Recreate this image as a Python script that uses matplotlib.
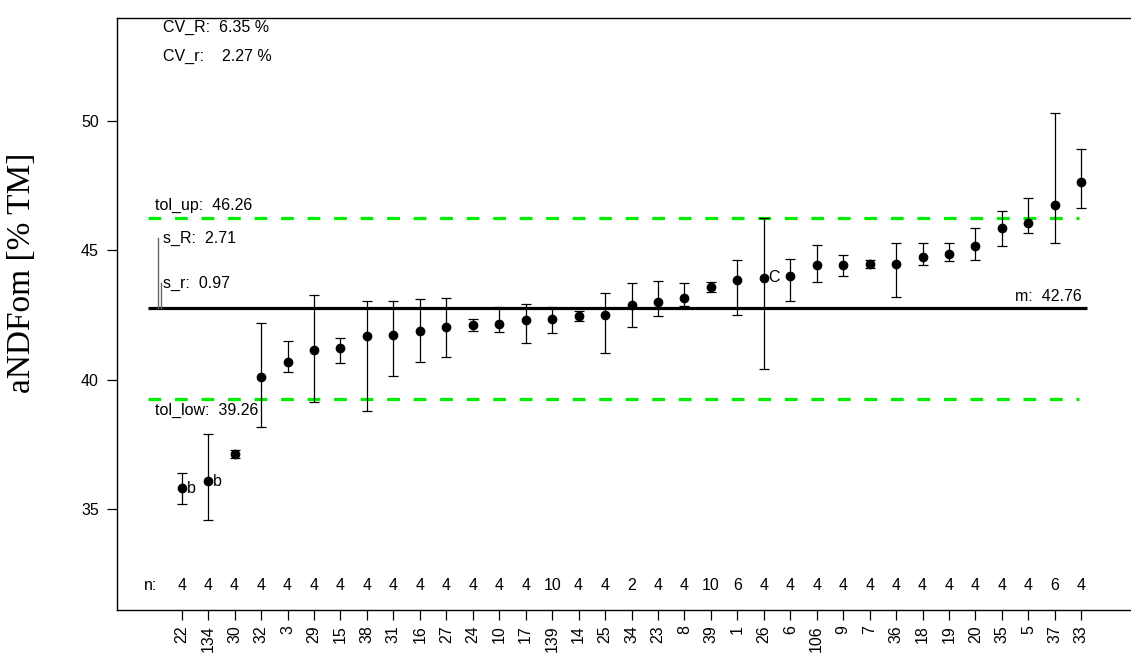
import numpy as np
import matplotlib
matplotlib.use("Agg")
import matplotlib.pyplot as plt

# ---------------- data ----------------
labs = ['22', '134', '30', '32', '3', '29', '15', '38', '31', '16', '27', '24', '10', '17',
        '139', '14', '25', '34', '23', '8', '39', '1', '26', '6', '106', '9', '7', '36',
        '18', '19', '20', '35', '5', '37', '33']
n_vals = [4, 4, 4, 4, 4, 4, 4, 4, 4, 4, 4, 4, 4, 4, 10, 4, 4, 2, 4, 4, 10, 6, 4, 4, 4,
          4, 4, 4, 4, 4, 4, 4, 4, 6, 4]
means = [35.81, 36.09, 37.12, 40.12, 40.70, 41.15, 41.24, 41.69, 41.72, 41.88, 42.03,
         42.10, 42.14, 42.31, 42.36, 42.46, 42.51, 42.88, 42.99, 43.14, 43.58, 43.85,
         43.94, 44.00, 44.43, 44.43, 44.46, 44.45, 44.74, 44.87, 45.18, 45.86, 46.06,
         46.74, 47.65]
upper = [36.39, 37.91, 37.29, 42.21, 41.51, 43.26, 41.61, 43.04, 43.04, 43.13, 43.16,
         42.34, 42.82, 42.92, 42.82, 42.67, 43.36, 43.73, 43.81, 43.72, 43.77, 44.64,
         46.26, 44.65, 45.20, 44.81, 44.61, 45.28, 45.28, 45.28, 45.84, 46.52, 47.02,
         50.30, 48.92]
lower = [35.21, 34.59, 37.00, 38.17, 40.29, 39.14, 40.64, 38.80, 40.16, 40.68, 40.89,
         41.87, 41.83, 41.43, 41.82, 42.26, 41.05, 42.03, 42.47, 42.84, 43.38, 42.49,
         40.42, 43.06, 43.77, 44.02, 44.31, 43.21, 44.42, 44.58, 44.64, 45.18, 45.66,
         45.28, 46.63]
flags = {0: 'b', 1: 'b', 22: 'C'}
mean_all = 42.76
tol_up = 46.26
tol_low = 39.26
s_R = 2.71
s_r = 0.97
CV_R = 6.35
CV_r = 2.27
ylabel = 'aNDFom [% TM]'

# ---------------- figure ----------------
plt.rcParams['font.family'] = ['Liberation Sans', 'DejaVu Sans']
W, H = 1131, 666
fig = plt.figure(figsize=(W / 100, H / 100), dpi=100)
ax = fig.add_axes([117 / W, 56 / H, 1083 / W, 592 / H])

x = np.arange(1, len(labs) + 1)
m = np.array(means)
lo = np.array(lower)
up = np.array(upper)

ax.set_xlim(-1.445, 39.485)
ax.set_ylim(31.12, 53.96)

# reference lines
ax.plot([-0.27, 35.2], [mean_all, mean_all], color='black', lw=2.3, solid_capstyle='butt', zorder=2)
for t in (tol_up, tol_low):
    ax.plot([-0.27, 34.9], [t, t], color='#00ee00', lw=2.3, dashes=(4.0, 4.3),
            dash_capstyle='butt', zorder=2)

# s_R and s_r bars
ax.plot([0.104, 0.104], [mean_all, mean_all + s_R], color='0.4', lw=1.0, zorder=2)
ax.plot([0.206, 0.206], [mean_all, mean_all + s_r], color='0.4', lw=1.0, zorder=2)

# error bars and points
ax.errorbar(x, m, yerr=[m - lo, up - m], fmt='o', color='black', ms=6.0,
            ecolor='black', elinewidth=0.9, capsize=3.6, capthick=0.9, zorder=3)

txt = dict(fontsize=11.5, color='black')
for i, f in flags.items():
    ax.annotate(f, (x[i], m[i]), xytext=(3.5, 0), textcoords='offset points',
                ha='left', va='center', **txt)

# annotations
ax.text(0.29, 53.6, 'CV_R:  %.2f %%' % CV_R, ha='left', va='center', **txt)
ax.text(0.29, 52.46, 'CV_r:    %.2f %%' % CV_r, ha='left', va='center', **txt)
ax.annotate('tol_up:  %.2f' % tol_up, (0.0, tol_up), xytext=(0, 3), textcoords='offset points',
            ha='left', va='bottom', **txt)
ax.annotate('tol_low:  %.2f' % tol_low, (0.0, tol_low), xytext=(0, -3), textcoords='offset points',
            ha='left', va='top', **txt)
ax.text(0.29, mean_all + s_R, 's_R:  %.2f' % s_R, ha='left', va='center', **txt)
ax.text(0.29, mean_all + s_r, 's_r:  %.2f' % s_r, ha='left', va='center', **txt)
ax.annotate('m:  %.2f' % mean_all, (35.0, mean_all), xytext=(0, 3), textcoords='offset points',
            ha='right', va='bottom', **txt)

# n row
ny = 32.05
ax.text(-0.16, ny, 'n:', ha='center', va='center', fontsize=11.5)
for xi, nv in zip(x, n_vals):
    ax.text(xi, ny, str(nv), ha='center', va='center', fontsize=11.5)

# axes styling
ax.spines['right'].set_visible(False)
for s in ('left', 'top', 'bottom'):
    ax.spines[s].set_linewidth(1.0)
ax.set_xticks(x)
ax.set_xticklabels(labs, rotation=90, fontsize=11.5, va='top', ha='center')
ax.set_yticks([35, 40, 45, 50])
ax.set_yticklabels(['35', '40', '45', '50'], fontsize=11.5)
ax.tick_params(axis='both', direction='out', length=7, width=0.9, pad=6)
ax.tick_params(axis='x', pad=4)

fig.text(22 / W, 1 - 273 / H, ylabel, rotation=90, ha='center', va='center',
         fontsize=24, family=['Liberation Serif', 'DejaVu Serif'])

fig.savefig('out.png', dpi=100)
